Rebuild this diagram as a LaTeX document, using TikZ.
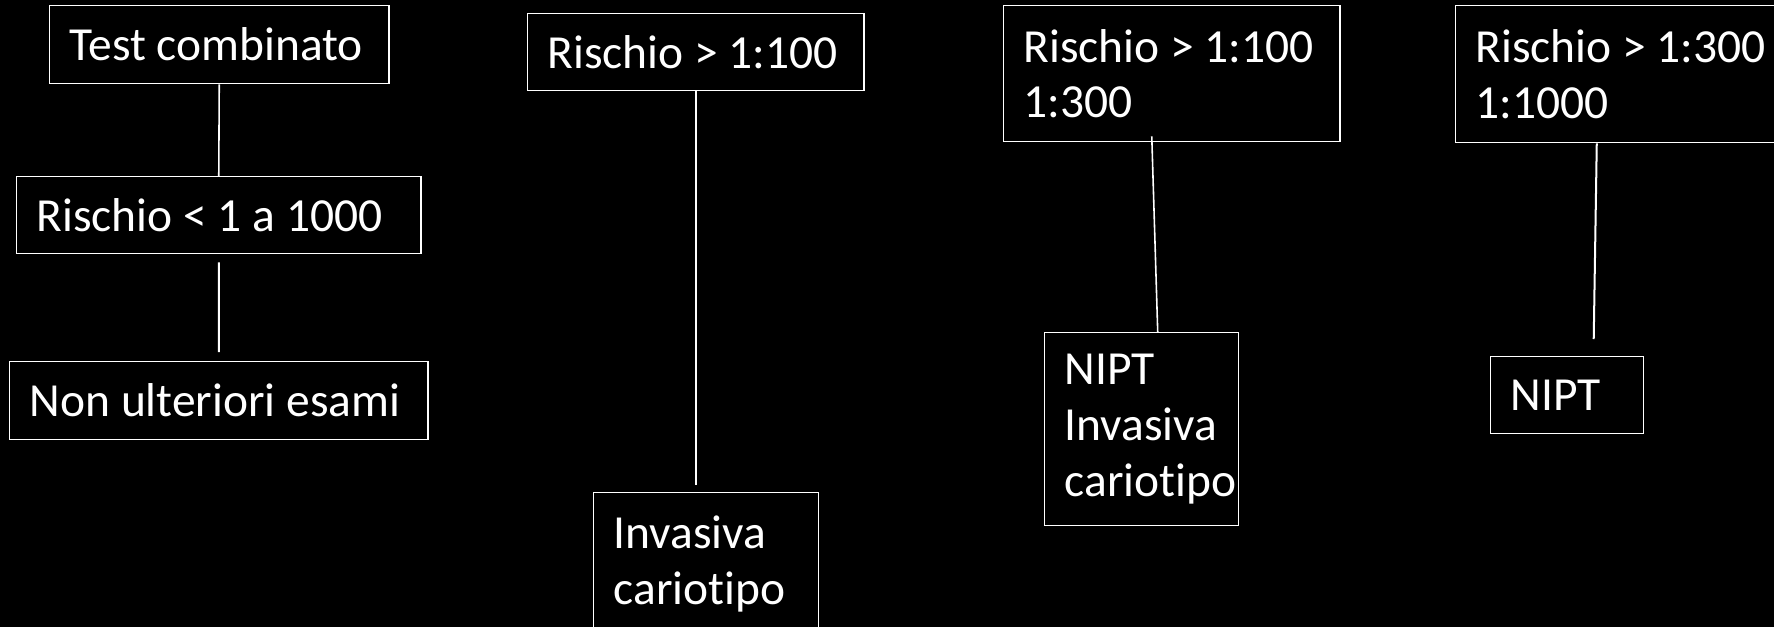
\documentclass[tikz,border=0pt]{standalone}
\usepackage{fontspec}
\setmainfont{Carlito}[Ligatures={NoCommon,NoContextual}]
\usetikzlibrary{calc}
\begin{document}
\begin{tikzpicture}[x=0.01cm,y=-0.01cm,
  box/.style={draw=white, line width=0.37pt, text=white, anchor=north west, align=flush left,
    inner xsep=0.2cm, inner ysep=0pt, font=\fontsize{13.5pt}{15.9pt}\selectfont},
  conn/.style={draw=white, line width=0.45pt},
  connb/.style={draw=white, line width=0.57pt}]
\fill[black] (0,0) rectangle (1774,627);
\useasboundingbox (0,0) rectangle (1774,627);

\node[box, text width=2.99cm, minimum height=0.78cm] (A) at (49,5) {Test combinato};
\node[box, text width=3.64cm, minimum height=0.77cm] (B) at (16,176) {Rischio < 1 a 1000};
\node[box, text width=3.78cm, minimum height=0.78cm] (C) at (9,361) {Non ulteriori esami};

\node[box, text width=2.96cm, minimum height=0.77cm] (D) at (527,13) {Rischio > 1:100};
\node[box, text width=1.85cm, minimum height=1.42cm] (E) at (593,492) {Invasiva\\cariotipo};

\node[box, text width=2.96cm, minimum height=1.36cm] (F) at (1003,5) {Rischio > 1:100\\1:300};
\node[box, text width=1.54cm, minimum height=1.93cm] (G) at (1044,332) {NIPT\\Invasiva\\cariotipo};

\node[box, text width=2.96cm, minimum height=1.37cm] (H) at (1455,5) {Rischio > 1:300\\1:1000};
\node[box, text width=1.13cm, minimum height=0.77cm] (I) at (1490,356) {NIPT};

\draw[conn] (A.south) -- (B.north);
\draw[connb, shorten <=0.08cm, shorten >=0.09cm] (B.south) -- (C.north);
\draw[connb, shorten >=0.07cm] (D.south) -- (D.south |- E.north);
\draw[conn] ($(F.south)+(-20,-6)$) -- ($(G.north)+(16,0)$);
\draw[connb] ($(H.south)+(-27,0)$) -- ($(I.north)+(26.5,-17)$);
\end{tikzpicture}
\end{document}
